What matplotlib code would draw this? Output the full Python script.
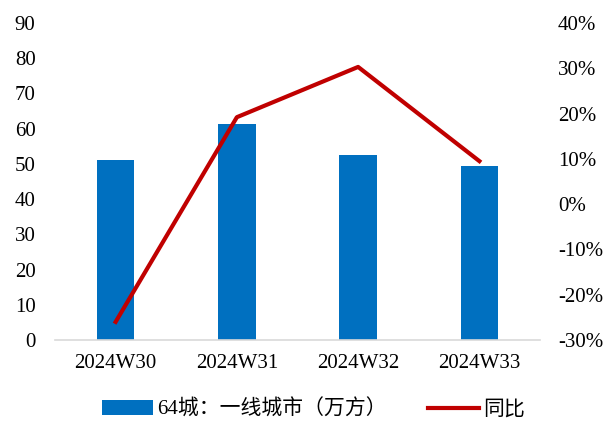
import numpy as np
import matplotlib.pyplot as plt
from matplotlib.ticker import FuncFormatter

plt.rcParams['font.family'] = ['Liberation Serif', 'Noto Sans CJK SC']

weeks = ['2024W30', '2024W31', '2024W32', '2024W33']
area = [51.0, 61.2, 52.5, 49.3]        # 64城：一线城市（万方）
yoy = [-26.0, 19.2, 30.3, 9.5]         # 同比, %

fig = plt.figure(figsize=(6.03, 4.21), dpi=100)
ax = fig.add_axes([55 / 603, 1 - 340 / 421, 485 / 603, 317 / 421])
x = np.arange(len(weeks))
bars = ax.bar(x, area, width=0.31, color='#0070C0', label='64城：一线城市（万方）', zorder=2)
ax.set_xlim(-0.5, len(weeks) - 0.5)
ax.set_ylim(0, 90)
ax.set_yticks(range(0, 91, 10))
ax.set_xticks(x)
ax.set_xticklabels(weeks)
for s in ['top', 'left', 'right']:
    ax.spines[s].set_visible(False)
ax.spines['bottom'].set_color('#D9D9D9')
ax.spines['bottom'].set_linewidth(1.2)
ax.tick_params(axis='both', length=0, labelsize=15, colors='#000000')
ax.tick_params(axis='y', pad=14)
ax.tick_params(axis='x', pad=10)

ax2 = ax.twinx()
line, = ax2.plot(x, yoy, color='#C00000', lw=3, label='同比', zorder=3)
ax2.set_ylim(-30, 40)
ax2.set_yticks(range(-30, 41, 10))
ax2.yaxis.set_major_formatter(FuncFormatter(lambda v, p: f'{v:.0f}%'))
for s in ['top', 'left', 'right', 'bottom']:
    ax2.spines[s].set_visible(False)
ax2.tick_params(axis='y', length=0, labelsize=15, pad=13)

fig.legend([bars, line], ['64城：一线城市（万方）', '同比'],
           loc='center', bbox_to_anchor=(0.52, 1 - 410 / 421), ncol=2,
           frameon=False, fontsize=15, handlelength=2.45, handletextpad=0.2,
           columnspacing=2.0)

fig.savefig('out.png', dpi=100)
